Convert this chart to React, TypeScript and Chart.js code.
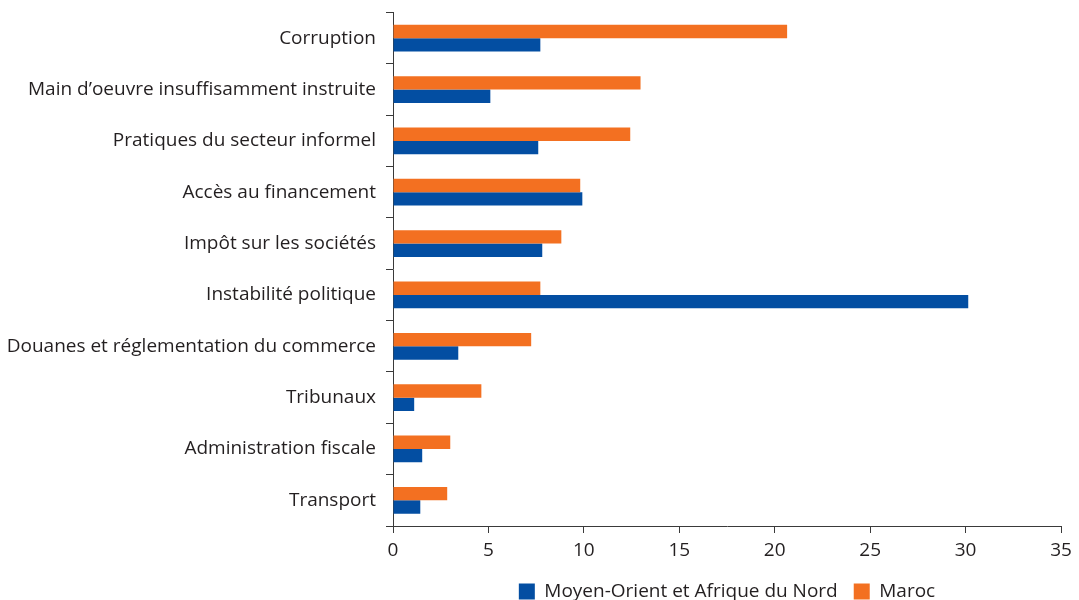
import React, { useEffect, useRef } from "react";
import { Chart, registerables } from "chart.js";

Chart.register(...registerables);

const categories = [
  "Corruption",
  "Main d\u2019oeuvre insuffisamment instruite",
  "Pratiques du secteur informel",
  "Accès au financement",
  "Impôt sur les sociétés",
  "Instabilité politique",
  "Douanes et réglementation du commerce",
  "Tribunaux",
  "Administration fiscale",
  "Transport",
];

const marocValues = [20.65, 12.97, 12.43, 9.81, 8.82, 7.72, 7.24, 4.63, 3.0, 2.84];
const menaValues = [7.72, 5.1, 7.61, 9.92, 7.82, 30.14, 3.42, 1.11, 1.53, 1.43];

const xTicks = [0, 5, 10, 15, 20, 25, 30, 35];

const FONT = "'Open Sans', 'Noto Sans', sans-serif";
const FS = 19;
const TEXT = "#231f20";
const AXIS = "#3a3a3a";

export default function App() {
  const ref = useRef<HTMLCanvasElement | null>(null);

  useEffect(() => {
    if (!ref.current) return;
    const chart = new Chart(ref.current, {
      type: "bar",
      data: {
        labels: categories,
        datasets: [
          {
            label: "Maroc",
            data: marocValues,
            backgroundColor: "#f37021",
            borderWidth: 0,
            barPercentage: 1,
            categoryPercentage: 0.52,
          },
          {
            label: "Moyen-Orient et Afrique du Nord",
            data: menaValues,
            backgroundColor: "#034ea2",
            borderWidth: 0,
            barPercentage: 1,
            categoryPercentage: 0.52,
          },
        ],
      },
      options: {
        indexAxis: "y",
        animation: false,
        responsive: true,
        maintainAspectRatio: false,
        layout: { padding: { top: 12.5, right: 18, left: 0, bottom: -11 } },
        plugins: {
          tooltip: { enabled: false },
          legend: {
            position: "bottom",
            reverse: true,
            fullSize: false,
            labels: {
              boxWidth: 16,
              boxHeight: 16,
              padding: 16,
              color: TEXT,
              font: { family: FONT, size: FS },
            },
          },
        },
        scales: {
          x: {
            type: "linear",
            min: 0,
            max: 35,
            afterBuildTicks: (scale: any) => {
              scale.ticks = xTicks.map((v) => ({ value: v }));
            },
            afterFit: (scale: any) => {
              scale.height = 40;
              scale.paddingLeft = 0;
              scale.paddingRight = 0;
            },
            grid: {
              display: true,
              drawOnChartArea: false,
              drawTicks: true,
              tickLength: 7,
              color: AXIS,
              lineWidth: 1,
            },
            border: { display: true, color: AXIS, width: 1 },
            ticks: {
              color: TEXT,
              padding: 6.5,
              font: { family: FONT, size: FS },
            },
          },
          y: {
            type: "category",
            afterFit: (scale: any) => {
              scale.width = 393;
              scale.paddingTop = 0;
              scale.paddingBottom = 0;
            },
            grid: {
              display: true,
              offset: true,
              drawOnChartArea: false,
              drawTicks: true,
              tickLength: 7,
              color: AXIS,
              lineWidth: 1,
            },
            border: { display: true, color: AXIS, width: 1 },
            ticks: {
              color: TEXT,
              padding: 10,
              font: { family: FONT, size: FS },
            },
          },
        },
      },
    });
    return () => chart.destroy();
  }, []);

  return (
    <div style={{ position: "absolute", left: 0, top: 0, width: 1079, height: 600, background: "#fff" }}>
      <canvas ref={ref} />
    </div>
  );
}
